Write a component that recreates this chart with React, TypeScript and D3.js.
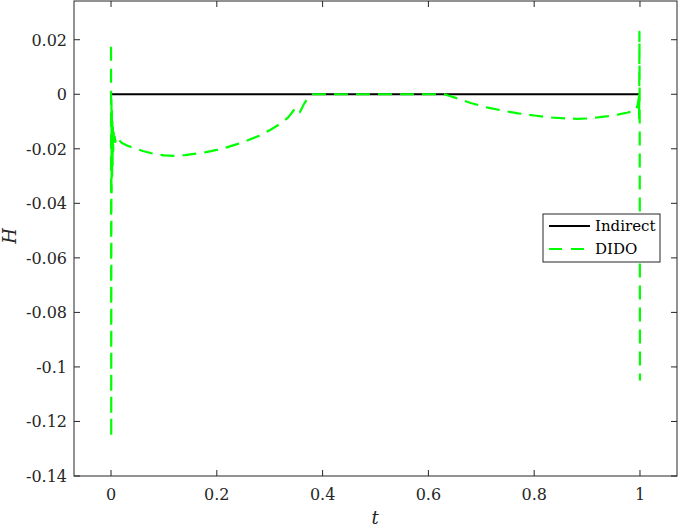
import React from "react";
import * as d3 from "d3";

const W = 681, H = 528;
const margin = { left: 74, right: 677, top: 1, bottom: 476 };
const xDomain = [-0.07, 1.07];
const yDomain = [-0.14, 0.0342];
const xTicks = [0, 0.2, 0.4, 0.6, 0.8, 1];
const yTicks = [0.02, 0, -0.02, -0.04, -0.06, -0.08, -0.1, -0.12, -0.14];
const yTickLabels = ["0.02", "0", "-0.02", "-0.04", "-0.06", "-0.08", "-0.1", "-0.12", "-0.14"];
const xTickLabels = ["0", "0.2", "0.4", "0.6", "0.8", "1"];

const indirectT = [0, 1];
const indirectH = [0, 0];

const didoT = [
  0, 0.0004, 0.0008, 0.0012, 0.0016, 0.002, 0.0025, 0.003, 0.0035, 0.004, 0.005, 0.006, 0.007, 0.008, 0.01,
  0.012, 0.015, 0.02, 0.03, 0.045, 0.06, 0.08, 0.1, 0.12, 0.14, 0.16, 0.18, 0.2, 0.22, 0.24, 0.26,
  0.28, 0.3, 0.32, 0.335, 0.349, 0.357, 0.365, 0.372, 0.38, 0.45, 0.5, 0.55, 0.6, 0.63,
  0.656, 0.68, 0.71, 0.74, 0.77, 0.8, 0.83, 0.86, 0.88, 0.9, 0.92, 0.94, 0.96, 0.975, 0.985,
  0.99, 0.993, 0.996, 0.998, 0.9985, 0.999, 0.9995, 1,
];
const didoH = [
  0.0174, -0.126, -0.002, -0.036, -0.006, -0.03, -0.01, -0.026, -0.012, -0.021, -0.014, -0.019, -0.0155, -0.0175, -0.016,
  -0.0172, -0.0168, -0.0178, -0.0188, -0.0198, -0.0208, -0.0218, -0.0224, -0.0226, -0.0223, -0.0218, -0.0212, -0.0204, -0.0194, -0.0182, -0.0168,
  -0.0152, -0.0132, -0.0108, -0.0085, -0.005, -0.0066, -0.0035, -0.0015, 0, 0, 0, 0, 0, 0,
  -0.0016, -0.0032, -0.0048, -0.006, -0.007, -0.0078, -0.0085, -0.0089, -0.009, -0.0089, -0.0085, -0.008, -0.0074, -0.0068, -0.0063,
  -0.006, -0.0058, -0.0035, -0.001, -0.009, 0.0229, -0.012, -0.105,
];

const FONT = "'DejaVu Serif', serif";
const AX = "#262626";

export default function App() {
  const x = d3.scaleLinear().domain(xDomain).range([margin.left, margin.right]);
  const y = d3.scaleLinear().domain(yDomain).range([margin.bottom, margin.top]);
  const line = d3
    .line<[number, number]>()
    .x((d) => x(d[0]))
    .y((d) => y(d[1]));
  const indirectPts = indirectT.map((t, i) => [t, indirectH[i]] as [number, number]);
  const didoPts = didoT.map((t, i) => [t, didoH[i]] as [number, number]);
  const L = margin.left, R = margin.right, T = margin.top, B = margin.bottom;

  return (
    <svg width={W} height={H} style={{ position: "absolute", left: 0, top: 0, background: "#fff" }}>
      <rect x={0} y={0} width={W} height={H} fill="#fff" />
      <path d={line(indirectPts) || ""} fill="none" stroke="#000" strokeWidth={2.2} />
      <path d={line(didoPts) || ""} fill="none" stroke="#00ff00" strokeWidth={2.2} strokeDasharray="14 8" strokeLinejoin="round" />
      <rect x={L} y={T} width={R - L} height={B - T} fill="none" stroke={AX} strokeWidth={1} />
      {xTicks.map((t, i) => (
        <g key={"x" + i}>
          <line x1={x(t)} x2={x(t)} y1={B} y2={B - 6} stroke={AX} />
          <line x1={x(t)} x2={x(t)} y1={T} y2={T + 6} stroke={AX} />
          <text x={x(t)} y={500} textAnchor="middle" style={{ fontFamily: FONT }} fontSize={16} fill={AX}>
            {xTickLabels[i]}
          </text>
        </g>
      ))}
      {yTicks.map((v, i) => (
        <g key={"y" + i}>
          <line x1={L} x2={L + 6} y1={y(v)} y2={y(v)} stroke={AX} />
          <line x1={R} x2={R - 6} y1={y(v)} y2={y(v)} stroke={AX} />
          <text x={67} y={y(v) + 6} textAnchor="end" style={{ fontFamily: FONT }} fontSize={16} fill={AX}>
            {yTickLabels[i]}
          </text>
        </g>
      ))}
      <text x={375} y={524} textAnchor="middle" style={{ fontFamily: FONT }} fontSize={18} fontStyle="italic" fill={AX}>
        t
      </text>
      <text transform="translate(16,236) rotate(-90)" textAnchor="middle" style={{ fontFamily: FONT }} fontSize={18} fontStyle="italic" fill={AX}>
        H
      </text>
      <rect x={543} y={214} width={117} height={48} fill="#fff" stroke={AX} strokeWidth={1} />
      <line x1={549} x2={590} y1={226} y2={226} stroke="#000" strokeWidth={2.2} />
      <line x1={549} x2={590} y1={249} y2={249} stroke="#00ff00" strokeWidth={2.2} strokeDasharray="13 9" />
      <text x={595} y={231} style={{ fontFamily: FONT }} fontSize={15} fill="#000">Indirect</text>
      <text x={595} y={254} style={{ fontFamily: FONT }} fontSize={15} fill="#000">DIDO</text>
    </svg>
  );
}
